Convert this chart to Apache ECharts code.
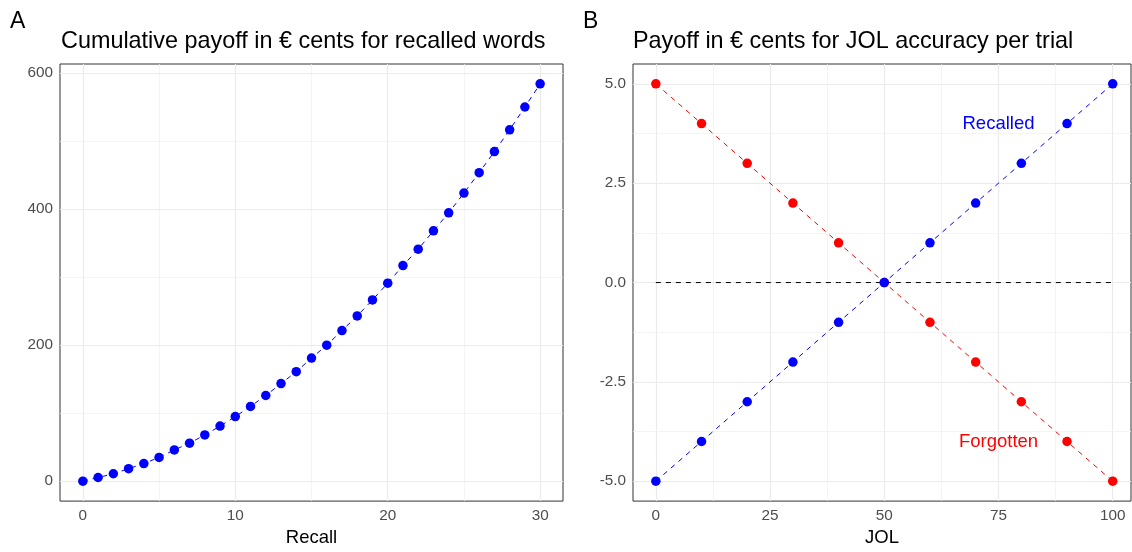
<!DOCTYPE html>
<html>
<head>
<meta charset="utf-8">
<title>Payoff structure</title>
<script src="https://cdn.jsdelivr.net/npm/echarts@6/dist/echarts.min.js"></script>
<style>
  html, body { margin: 0; padding: 0; background: #fff; }
  #chart { width: 1132px; height: 552px; }
</style>
</head>
<body>
<div id="chart"></div>
<script>
// Panel A: cumulative payoff (euro cents) by number of recalled words
const recallCounts = [0, 1, 2, 3, 4, 5, 6, 7, 8, 9, 10, 11, 12, 13, 14, 15, 16, 17, 18, 19, 20,
  21, 22, 23, 24, 25, 26, 27, 28, 29, 30];
const cumulativePayoff = [0, 5.5, 11, 18.5, 26, 35, 46, 56, 68, 81, 95, 110, 126, 143.5, 161, 181,
  200, 221.5, 243, 266.5, 291, 317, 341, 368, 394.5, 423.5, 453.5, 484.5, 516.5, 550, 584];

// Panel B: payoff per trial as a function of the JOL given
const jolValues = [0, 10, 20, 30, 40, 50, 60, 70, 80, 90, 100];
const payoffRecalled = [-5, -4, -3, -2, -1, 0, 1, 2, 3, 4, 5];
const payoffForgotten = [5, 4, 3, 2, 1, 0, -1, -2, -3, -4, -5];
const baselinePayoff = [0, 0, 0, 0, 0, 0, 0, 0, 0, 0, 0];

// Tick labels and grid lines
const ticksA_x = [0, 10, 20, 30];
const minorA_x = [5, 15, 25];
const ticksA_y = [0, 200, 400, 600];
const minorA_y = [100, 300, 500];
const ticksB_x = [0, 25, 50, 75, 100];
const minorB_x = [12.5, 37.5, 62.5, 87.5];
const ticksB_y = [-5, -2.5, 0, 2.5, 5];
const minorB_y = [-3.75, -1.25, 1.25, 3.75];

// Text annotations in panel B
const annotations = [
  { name: 'Recalled', jol: 75, payoff: 4, color: '#0000FF' },
  { name: 'Forgotten', jol: 75, payoff: -4, color: '#FF0000' }
];

const FONT = "'Liberation Sans', Arial, Helvetica, sans-serif";
const BLUE = '#0000FF';
const RED = '#FF0000';
const INK = '#333333';
const GRID_MAJOR = '#EBEBEB';
const GRID_MINOR = '#EFEFEF';

function pairs(xs, ys) { return xs.map((x, i) => [x, ys[i]]); }

function gridLines(major, minor, key) {
  return major.map(v => ({ [key]: v, lineStyle: { color: GRID_MAJOR, width: 1.2, type: 'solid' } }))
    .concat(minor.map(v => ({ [key]: v, lineStyle: { color: GRID_MINOR, width: 0.7, type: 'solid' } })));
}

// Background grid lines drawn with the axes' own scales, kept under the data
function gridSeries(idx, mx, nx, my, ny) {
  return {
    type: 'line', xAxisIndex: idx, yAxisIndex: idx, data: [], z: 1, silent: true,
    markLine: {
      z: 1, silent: true, symbol: ['none', 'none'], animation: false,
      label: { show: false },
      emphasis: { disabled: true },
      data: gridLines(mx, nx, 'xAxis').concat(gridLines(my, ny, 'yAxis'))
    }
  };
}

function valueAxis(gridIndex, min, max, ticks, fmt, extra) {
  return Object.assign({
    type: 'value', gridIndex, min, max,
    axisLine: { show: false },
    splitLine: { show: false },
    axisTick: { show: true, length: 4, customValues: ticks, lineStyle: { color: INK, width: 1 } },
    axisLabel: {
      customValues: ticks, color: '#4D4D4D', fontSize: 15.3, fontFamily: FONT, margin: 7,
      formatter: fmt
    },
    nameTextStyle: { color: '#000', fontSize: 18.5, fontFamily: FONT }
  }, extra || {});
}

const chart = echarts.init(document.getElementById('chart'), null, { renderer: 'canvas' });

const titleStyle = { fontFamily: FONT, fontSize: 23.4, fontWeight: 'normal', color: '#000' };
const tagStyle = { fontFamily: FONT, fontSize: 23, fontWeight: 'normal', color: '#000' };

const option = {
  animation: false,
  backgroundColor: '#fff',
  title: [
    { text: 'A', left: 10, top: 10, padding: 0, textStyle: tagStyle },
    { text: 'Cumulative payoff in € cents for recalled words', left: 61, top: 30, padding: 0, textStyle: titleStyle },
    { text: 'B', left: 583, top: 10, padding: 0, textStyle: tagStyle },
    { text: 'Payoff in € cents for JOL accuracy per trial', left: 633, top: 30, padding: 0, textStyle: titleStyle }
  ],
  grid: [
    { left: 60, top: 64, width: 503, height: 442, show: true, borderColor: INK, borderWidth: 1, backgroundColor: '#fff' },
    { left: 633, top: 64, width: 498, height: 442, show: true, borderColor: INK, borderWidth: 1, backgroundColor: '#fff' }
  ],
  xAxis: [
    valueAxis(0, -1.5, 31.5, ticksA_x, v => String(v), { name: 'Recall', nameLocation: 'middle', nameGap: 26 }),
    valueAxis(1, -5, 104, ticksB_x, v => String(v), { name: 'JOL', nameLocation: 'middle', nameGap: 26 })
  ],
  yAxis: [
    valueAxis(0, -29.2, 613.2, ticksA_y, v => String(v)),
    valueAxis(1, -5.5, 5.5, ticksB_y, v => v.toFixed(1))
  ],
  series: [
    gridSeries(0, ticksA_x, minorA_x, ticksA_y, minorA_y),
    gridSeries(1, ticksB_x, minorB_x, ticksB_y, minorB_y),
    {
      name: 'Cumulative payoff', type: 'line', xAxisIndex: 0, yAxisIndex: 0, z: 3,
      data: pairs(recallCounts, cumulativePayoff),
      symbol: 'circle', symbolSize: 9.5, showAllSymbol: true,
      itemStyle: { color: BLUE },
      lineStyle: { color: BLUE, width: 1, type: [5, 5] }
    },
    {
      name: 'Baseline', type: 'line', xAxisIndex: 1, yAxisIndex: 1, z: 2,
      data: pairs(jolValues, baselinePayoff),
      showSymbol: false, symbol: 'none',
      lineStyle: { color: '#000', width: 1, type: [5, 5] }
    },
    {
      name: 'Forgotten', type: 'line', xAxisIndex: 1, yAxisIndex: 1, z: 3,
      data: pairs(jolValues, payoffForgotten),
      symbol: 'circle', symbolSize: 9.5, showAllSymbol: true,
      itemStyle: { color: RED },
      lineStyle: { color: RED, width: 1, type: [5, 5] }
    },
    {
      name: 'Recalled', type: 'line', xAxisIndex: 1, yAxisIndex: 1, z: 4,
      data: pairs(jolValues, payoffRecalled),
      symbol: 'circle', symbolSize: 9.5, showAllSymbol: true,
      itemStyle: { color: BLUE },
      lineStyle: { color: BLUE, width: 1, type: [5, 5] }
    },
    {
      name: 'Annotations', type: 'scatter', xAxisIndex: 1, yAxisIndex: 1, z: 5,
      symbolSize: 0, silent: true,
      itemStyle: { opacity: 1 },
      data: annotations.map(a => ({
        value: [a.jol, a.payoff], name: a.name,
        itemStyle: { opacity: 1 },
        label: { show: true, position: 'inside', formatter: a.name, color: a.color, opacity: 1,
          textBorderWidth: 0, fontSize: 18.5, fontFamily: FONT }
      }))
    }
  ]
};

chart.setOption(option);
</script>
</body>
</html>
